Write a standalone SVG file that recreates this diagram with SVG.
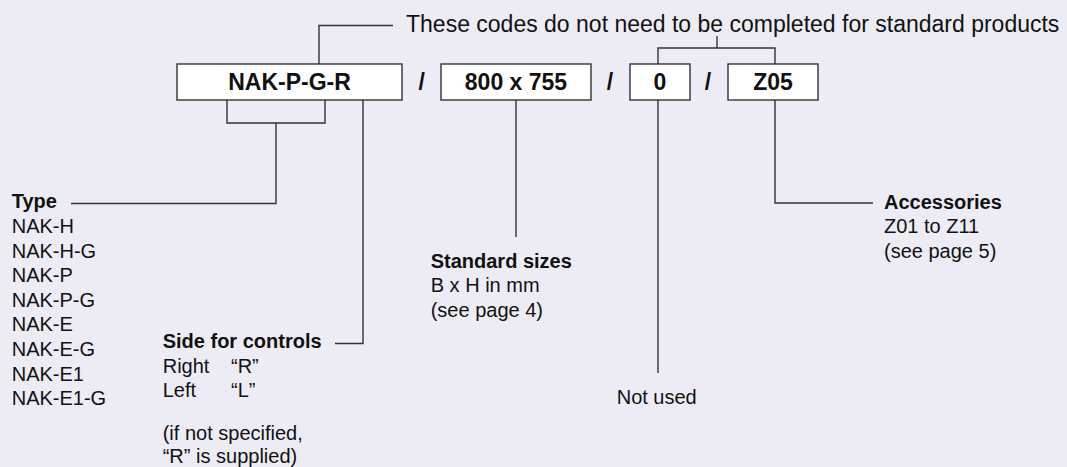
<svg xmlns="http://www.w3.org/2000/svg" width="1067" height="467" viewBox="0 0 1067 467">
<style>
.bg{fill:#EDECF5}
.box{fill:#ffffff;stroke:#333;stroke-width:1.4}
.ln{fill:none;stroke:#333;stroke-width:1.4}
text{font-family:"Liberation Sans",Arial,Helvetica,sans-serif;fill:#111}
.bx{font-size:23px;font-weight:bold;text-anchor:middle}
.tp{font-size:23px}
.t{font-size:20px}
.b{font-size:20px;font-weight:bold}
</style>
<rect class="bg" x="0" y="0" width="1067" height="467"/>
<g id="connectors">
<polyline class="ln" points="319,64 319,25.5 393,25.5"/>
<polyline class="ln" points="658,64 658,48 775,48 775,64"/>
<line class="ln" x1="717" y1="48" x2="717" y2="36"/>
<polyline class="ln" points="227,100 227,123 325,123 325,100"/>
<polyline class="ln" points="276,123 276,203.5 71,203.5"/>
<polyline class="ln" points="363,100 363,343.5 335,343.5"/>
<line class="ln" x1="516" y1="100" x2="516" y2="237"/>
<line class="ln" x1="658" y1="100" x2="658" y2="373"/>
<polyline class="ln" points="775,100 775,203 873,203"/>
</g>
<g id="note">
<text class="tp" x="406" y="32">These codes do not need to be completed for standard products</text>
</g>
<g id="box-type">
<rect class="box" x="177" y="64" width="225" height="36"/>
<text class="bx" x="289.5" y="90">NAK-P-G-R</text>
</g>
<text class="bx" x="421.7" y="90">/</text>
<g id="box-size">
<rect class="box" x="441" y="64" width="150" height="36"/>
<text class="bx" x="516" y="90">800 x 755</text>
</g>
<text class="bx" x="610" y="90">/</text>
<g id="box-zero">
<rect class="box" x="630" y="64" width="60" height="36"/>
<text class="bx" x="660" y="90">0</text>
</g>
<text class="bx" x="708" y="90">/</text>
<g id="box-acc">
<rect class="box" x="728" y="64" width="90" height="36"/>
<text class="bx" x="773" y="90">Z05</text>
</g>
<g id="label-type">
<text class="b" x="11.7" y="208.3">Type</text>
<text class="t" x="11.7" y="232.9">NAK-H</text>
<text class="t" x="11.7" y="257.5">NAK-H-G</text>
<text class="t" x="11.7" y="282.1">NAK-P</text>
<text class="t" x="11.7" y="306.7">NAK-P-G</text>
<text class="t" x="11.7" y="331.3">NAK-E</text>
<text class="t" x="11.7" y="355.9">NAK-E-G</text>
<text class="t" x="11.7" y="380.5">NAK-E1</text>
<text class="t" x="11.7" y="405.1">NAK-E1-G</text>
</g>
<g id="label-side">
<text class="b" x="162.7" y="348.3">Side for controls</text>
<text class="t" x="162.7" y="373.3">Right</text>
<text class="t" x="231" y="373.3">“R”</text>
<text class="t" x="162.7" y="396.7">Left</text>
<text class="t" x="231" y="396.7">“L”</text>
<text class="t" x="162.7" y="440">(if not specified,</text>
<text class="t" x="162.7" y="463.3">“R” is supplied)</text>
</g>
<g id="label-size">
<text class="b" x="430.7" y="268.3">Standard sizes</text>
<text class="t" x="430.7" y="292.3">B x H in mm</text>
<text class="t" x="430.7" y="316.7">(see page 4)</text>
</g>
<g id="label-notused">
<text class="t" x="616.7" y="404">Not used</text>
</g>
<g id="label-acc">
<text class="b" x="884" y="209">Accessories</text>
<text class="t" x="884" y="233.3">Z01 to Z11</text>
<text class="t" x="884" y="257.7">(see page 5)</text>
</g>
</svg>
